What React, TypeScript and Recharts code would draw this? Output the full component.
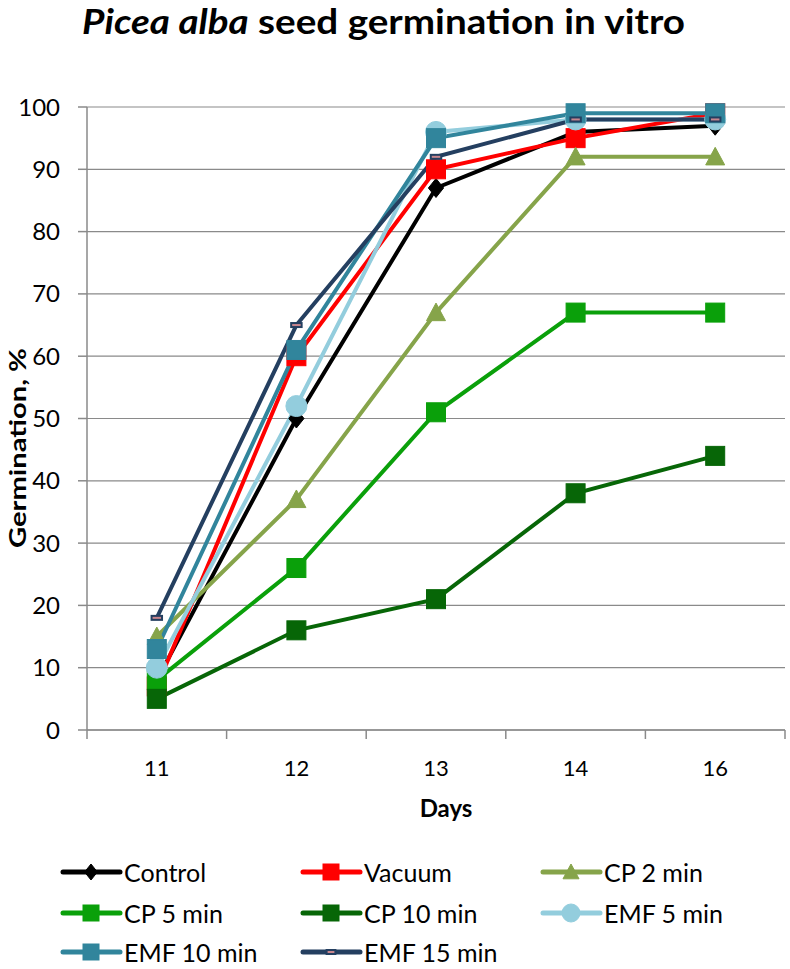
import React from 'react';
import { LineChart, Line, XAxis, YAxis, CartesianGrid } from 'recharts';

// Days after sowing (category axis)
const days = ['11', '12', '13', '14', '16'];
const yTicks = [0, 10, 20, 30, 40, 50, 60, 70, 80, 90, 100];

// Germination, % per treatment
const control = [8, 50, 87, 96, 97];
const vacuum = [7, 60, 90, 95, 99];
const cp2 = [15, 37, 67, 92, 92];
const cp5 = [8, 26, 51, 67, 67];
const cp10 = [5, 16, 21, 38, 44];
const emf5 = [10, 52, 96, 98, 98];
const emf10 = [13, 61, 95, 99, 99];
const emf15 = [18, 65, 92, 98, 98];

type Marker = 'diamond' | 'square' | 'triangle' | 'circle' | 'dash';

const series: { key: string; name: string; values: number[]; color: string; marker: Marker }[] = [
  { key: 'control', name: 'Control', values: control, color: '#000000', marker: 'diamond' },
  { key: 'vacuum', name: 'Vacuum', values: vacuum, color: '#FF0000', marker: 'square' },
  { key: 'cp2', name: 'CP 2 min', values: cp2, color: '#86A44A', marker: 'triangle' },
  { key: 'cp5', name: 'CP 5 min', values: cp5, color: '#0AA00A', marker: 'square' },
  { key: 'cp10', name: 'CP 10 min', values: cp10, color: '#076607', marker: 'square' },
  { key: 'emf5', name: 'EMF 5 min', values: emf5, color: '#93CDDD', marker: 'circle' },
  { key: 'emf10', name: 'EMF 10 min', values: emf10, color: '#31859C', marker: 'square' },
  { key: 'emf15', name: 'EMF 15 min', values: emf15, color: '#243F60', marker: 'dash' },
];

const data = days.map((d, i) => {
  const row: Record<string, string | number> = { day: d };
  series.forEach((s) => {
    row[s.key] = s.values[i];
  });
  return row;
});

const W = 790;
const H = 969;
const PLOT_LEFT = 87;
const PLOT_RIGHT = 785;
const PLOT_TOP = 107;
const PLOT_BOTTOM = 730;
const X_AXIS_H = 30;
const BAND = (PLOT_RIGHT - PLOT_LEFT) / days.length;
const FONT = 'Lato, "Open Sans", sans-serif';
const GRID = '#8a8a8a';

function MarkerShape({ type, cx, cy, color, s }: { type: Marker; cx: number; cy: number; color: string; s: number }) {
  const h = s / 2;
  switch (type) {
    case 'diamond':
      return <polygon points={`${cx},${cy - h} ${cx + h * 0.8},${cy} ${cx},${cy + h} ${cx - h * 0.8},${cy}`} fill={color} stroke={color} strokeWidth={1} />;
    case 'square':
      return <rect x={cx - h} y={cy - h} width={s} height={s} fill={color} stroke={color} strokeWidth={1} />;
    case 'triangle':
      return <polygon points={`${cx},${cy - h} ${cx + h},${cy + h * 0.85} ${cx - h},${cy + h * 0.85}`} fill={color} stroke={color} strokeWidth={1} />;
    case 'circle':
      return <circle cx={cx} cy={cy} r={h} fill={color} stroke={color} strokeWidth={1} />;
    case 'dash':
      return <rect x={cx - h * 0.55} y={cy - 2} width={h * 1.1} height={4} fill="#C9868E" stroke={color} strokeWidth={2} />;
  }
  return null;
}

const XTick = (props: any) => {
  const { x, y, payload, index } = props;
  return (
    <g>
      <line x1={x - BAND / 2} y1={y} x2={x - BAND / 2} y2={y + 9} stroke={GRID} strokeWidth={1.5} />
      {index === days.length - 1 && (
        <line x1={x + BAND / 2} y1={y} x2={x + BAND / 2} y2={y + 9} stroke={GRID} strokeWidth={1.5} />
      )}
      <text x={x} y={y + 46} textAnchor="middle" fontSize={22} fontFamily={FONT} fill="#000">
        {payload.value}
      </text>
    </g>
  );
};

export default function App() {
  return (
    <div style={{ position: 'absolute', left: 0, top: 0, width: W, height: H, background: '#fff', fontFamily: FONT, overflow: 'hidden' }}>
      <LineChart
        width={W}
        height={H}
        data={data}
        margin={{ top: PLOT_TOP, right: W - PLOT_RIGHT, bottom: H - PLOT_BOTTOM - X_AXIS_H, left: 0 }}
      >
        <CartesianGrid horizontal vertical={false} stroke={GRID} strokeWidth={1.2} />
        <XAxis
          dataKey="day"
          type="category"
          height={X_AXIS_H}
          padding={{ left: BAND / 2, right: BAND / 2 }}
          axisLine={{ stroke: GRID, strokeWidth: 1.5 }}
          tickLine={false}
          tickSize={0}
          tickMargin={0}
          tick={<XTick />}
          interval={0}
        />
        <YAxis
          type="number"
          domain={[0, 100]}
          ticks={yTicks}
          width={PLOT_LEFT}
          axisLine={{ stroke: GRID, strokeWidth: 1.5 }}
          tickLine={{ stroke: GRID, strokeWidth: 1.5 }}
          tickSize={9}
          tickMargin={18}
          tick={{ fontSize: 24, fontFamily: FONT, fill: '#000' }}
          interval={0}
        />
        {series.map((s) => (
          <Line
            key={s.key}
            dataKey={s.key}
            name={s.name}
            type="linear"
            stroke={s.color}
            strokeWidth={4}
            isAnimationActive={false}
            activeDot={false}
            dot={(p: any) => (
              <MarkerShape key={`${s.key}-${p.index}`} type={s.marker} cx={p.cx} cy={p.cy} color={s.color} s={s.marker === 'circle' ? 21 : 19} />
            )}
          />
        ))}
      </LineChart>

      {/* Title and axis titles */}
      <svg width={W} height={H} style={{ position: 'absolute', left: 0, top: 0, pointerEvents: 'none' }}>
        <text x={82} y={34} fontSize={35} fontWeight={700} fontFamily={FONT} textLength={603} lengthAdjust="spacingAndGlyphs" fill="#000">
          <tspan fontStyle="italic">Picea alba</tspan> seed germination in vitro
        </text>
        <text
          x={0}
          y={0}
          transform="translate(26, 548) rotate(-90)"
          fontSize={23}
          fontWeight={700}
          fontFamily={FONT}
          textLength={200}
          lengthAdjust="spacingAndGlyphs"
          fill="#000"
        >
          Germination, %
        </text>
        <text x={446} y={817} textAnchor="middle" fontSize={24} fontWeight={700} fontFamily={FONT} fill="#000">
          Days
        </text>
      </svg>

      {/* Legend */}
      {series.map((s, i) => {
        const col = i % 3;
        const row = Math.floor(i / 3);
        const lx = [60, 300, 540][col];
        const cy = [872, 913, 952][row];
        return (
          <div key={s.key} style={{ position: 'absolute', left: lx, top: cy - 14, height: 28, display: 'flex', alignItems: 'center' }}>
            <svg width={63} height={28}>
              <line x1={3} y1={14} x2={60} y2={14} stroke={s.color} strokeWidth={5} strokeLinecap="round" />
              <MarkerShape type={s.marker} cx={31} cy={14} color={s.color} s={s.marker === 'circle' ? 18 : 16} />
            </svg>
            <span style={{ fontSize: 25, marginLeft: 1, color: '#000', whiteSpace: 'nowrap', lineHeight: '28px' }}>{s.name}</span>
          </div>
        );
      })}
    </div>
  );
}
